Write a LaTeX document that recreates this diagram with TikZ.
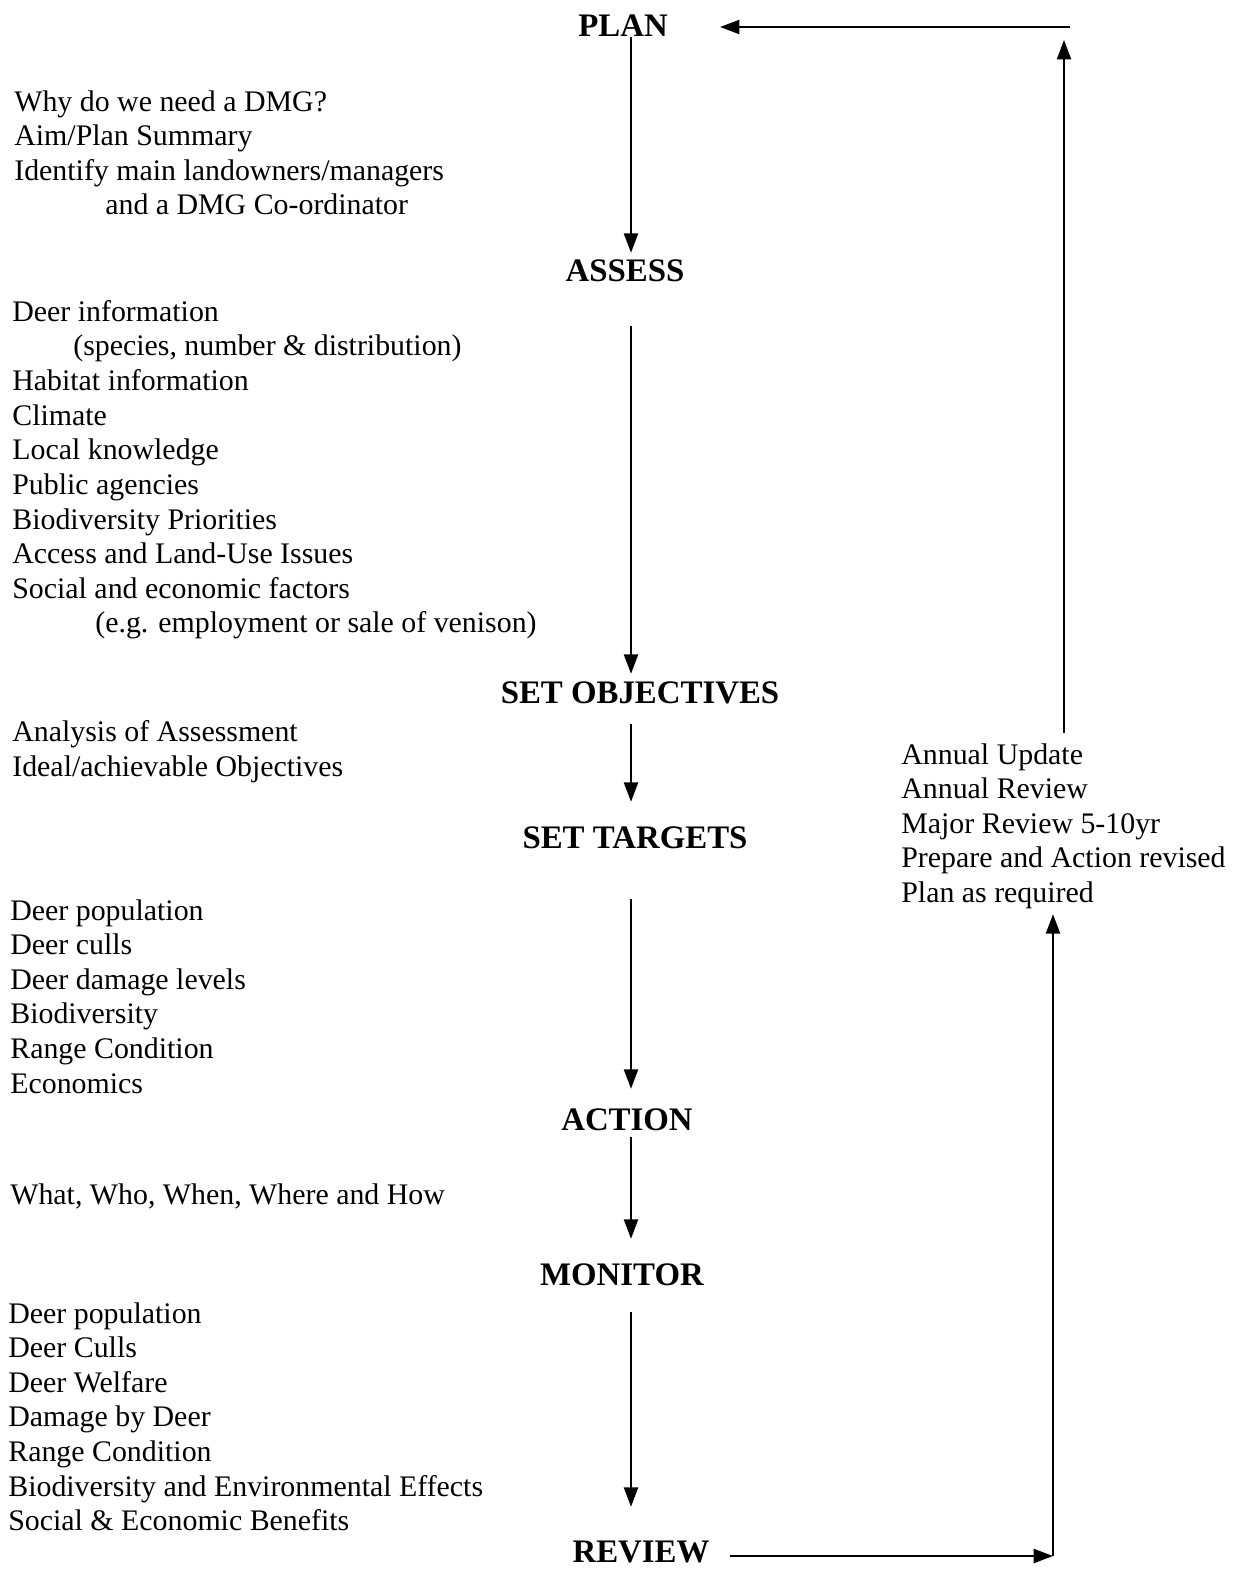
\documentclass[tikz,border=0pt]{standalone}
\usepackage{fontspec}
\setmainfont{Liberation Serif}
\usetikzlibrary{arrows.meta}

\begin{document}
\begin{tikzpicture}[x=0.02cm, y=-0.02cm,
    stage/.style={font=\fontsize{18.7}{22}\selectfont\bfseries, inner sep=0pt, text height=12.4pt, text depth=0pt},
    notes/.style={font=\fontsize{17}{19.7}\selectfont, align=left, inner sep=0pt, anchor=north west},
    flow/.style={-{Triangle[length=11pt, width=8pt]}, line width=1.1pt}]
    \useasboundingbox (0,0) rectangle (1248,1571);

    \node[stage] (plan) at (623, 26) {PLAN};
    \node[stage] (assess) at (625, 271) {ASSESS};
    \node[stage] (setobj) at (640, 693) {SET OBJECTIVES};
    \node[stage] (settargets) at (635, 838) {SET TARGETS};
    \node[stage] (action) at (627, 1120) {ACTION};
    \node[stage] (monitor) at (622, 1275) {MONITOR};
    \node[stage] (review) at (641, 1552) {REVIEW};

    \node[notes] (plannotes) at (14, 90) {Why do we need a DMG?\\
        Aim/Plan Summary\\
        Identify main landowners/managers\\
        \hspace*{1.82cm}and a DMG Co-ordinator};
    \node[notes] (assessnotes) at (12, 300) {Deer information\\
        \hspace*{1.22cm}(species, number \& distribution)\\
        Habitat information\\
        Climate\\
        Local knowledge\\
        Public agencies\\
        Biodiversity Priorities\\
        Access and Land-Use Issues\\
        Social and economic factors\\
        \hspace*{1.66cm}(e.g. employment or sale of venison)};
    \node[notes] (objnotes) at (12, 720) {Analysis of Assessment\\
        Ideal/achievable Objectives};
    \node[notes] (targetnotes) at (10, 899) {Deer population\\
        Deer culls\\
        Deer damage levels\\
        Biodiversity\\
        Range Condition\\
        Economics};
    \node[notes] (actionnotes) at (10, 1183) {What, Who, When, Where and How};
    \node[notes] (monitornotes) at (8, 1302) {Deer population\\
        Deer Culls\\
        Deer Welfare\\
        Damage by Deer\\
        Range Condition\\
        Biodiversity and Environmental Effects\\
        Social \& Economic Benefits};
    \node[notes] (updates) at (901, 743) {Annual Update\\
        Annual Review\\
        Major Review 5-10yr\\
        Prepare and Action revised\\
        Plan as required};

    \coordinate (spine) at (631, 0);
    \coordinate (loopbr) at (1053, 1556);
    \coordinate (looptr) at (1064, 40);
    \coordinate (looptop) at (1070, 27);

    % plan-assess
    \draw[flow, shorten >=0.14cm] (plan.south -| spine) -- (assess.north -| spine);

    % assess-setobj
    \draw[flow, shorten <=0.88cm, shorten >=0.16cm] (assess.south -| spine) -- (setobj.north -| spine);

    % setobj-settargets
    \draw[flow, shorten <=0.4cm, shorten >=0.5cm] (setobj.south -| spine) -- (settargets.north -| spine);

    % settargets-action
    \draw[flow, shorten <=1cm, shorten >=0.4cm] (settargets.south -| spine) -- (action.north -| spine);

    % action-monitor
    \draw[flow, shorten <=0.12cm, shorten >=0.5cm] (action.south -| spine) -- (monitor.north -| spine);

    % monitor-review
    \draw[flow, shorten <=0.52cm, shorten >=0.68cm] (monitor.south -| spine) -- (review.north -| spine);

    % review-plan loop
    \draw[flow, shorten <=0.4cm] (review.east |- loopbr) -- (loopbr);
    \draw[flow, shorten >=0.1cm] (loopbr) -- (updates.south -| loopbr);
    \draw[flow, shorten <=0.2cm] (updates.north -| looptr) -- (looptr);
    \draw[flow, shorten >=1.04cm] (looptop) -- (plan.east |- looptop);
\end{tikzpicture}
\end{document}
